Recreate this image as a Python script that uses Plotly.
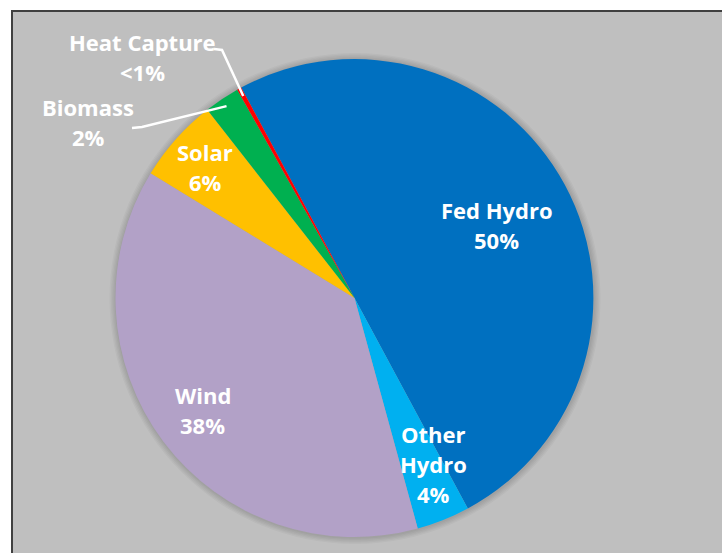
import math
import plotly.graph_objects as go

# Generation mix shares (percent)
sources = ["Fed Hydro", "Other Hydro", "Wind", "Solar", "Biomass", "Heat Capture"]
shares = [50.0, 3.6, 38.0, 5.7, 2.4, 0.3]
colors = ["#0070C0", "#00B0F0", "#B2A1C7", "#FFC000", "#00B050", "#FF0000"]
label_lines = [["Fed Hydro"], ["Other", "Hydro"], ["Wind"], ["Solar"], ["Biomass"], ["Heat Capture"]]

W, H = 722, 553
CX, CY, R = 354.5, 298.0, 239.0       # pie centre and radius in pixels
ROTATION = -28.3                      # first slice starts left of 12 o'clock
BG = "#BFBFBF"
FONT = dict(family="Open Sans", size=22, color="white")
LINE_GAP = 30


def px(x, y):
    return x / W, 1 - y / H


def pct_text(v):
    return "<1%" if v < 1 else f"{round(v)}%"


# slice mid angles (clockwise from 12 o'clock), derived from the shares
total = sum(shares)
mids = []
acc = ROTATION
for v in shares:
    span = 360 * v / total
    mids.append(acc + span / 2)
    acc += span


def polar(angle_deg, frac):
    a = math.radians(angle_deg)
    return CX + frac * R * math.sin(a), CY - frac * R * math.cos(a)


fig = go.Figure()
x0, y1 = px(CX - R, CY - R)
x1, y0 = px(CX + R, CY + R)
fig.add_trace(go.Pie(
    labels=sources, values=shares, sort=False, direction="clockwise",
    rotation=ROTATION, marker=dict(colors=colors, line=dict(width=0)),
    textinfo="none", hoverinfo="label+percent", showlegend=False,
    domain=dict(x=[x0, x1], y=[y0, y1]),
))

shapes = []
# chart area frame
fx0, fy0 = px(12, 11)
fx1, fy1 = px(740, 570)
shapes.append(dict(type="rect", xref="paper", yref="paper", x0=fx0, y0=fy0, x1=fx1, y1=fy1,
                   fillcolor=BG, line=dict(color="#404040", width=2), layer="below"))
# soft shadow around the pie
for k in range(1, 6):
    rr = R + 1.3 * k
    sx0, sy1 = px(CX + 0.5 - rr, CY + 0.5 - rr)
    sx1, sy0 = px(CX + 0.5 + rr, CY + 0.5 + rr)
    shapes.append(dict(type="circle", xref="paper", yref="paper", x0=sx0, y0=sy0, x1=sx1, y1=sy1,
                       fillcolor="rgba(0,0,0,0.03)", line=dict(width=0), layer="below"))

annotations = []


def add_block(cx, cy, lines):
    n = len(lines)
    for i, t in enumerate(lines):
        ax, ay = px(cx, cy + (i - (n - 1) / 2) * LINE_GAP)
        annotations.append(dict(x=ax, y=ay, xref="paper", yref="paper", text=f"<b>{t}</b>",
                                showarrow=False, font=FONT, xanchor="center", yanchor="middle"))


# inside labels: (radius fraction, angular nudge) along each slice's bisector
inside = {0: (0.67, 1.0), 1: (0.77, -3.5), 2: (0.79, 0.5), 3: (0.83, -0.5)}
for i, (frac, nudge) in inside.items():
    lx, ly = polar(mids[i] + nudge, frac)
    add_block(lx, ly, label_lines[i] + [pct_text(shares[i])])

# outside labels with elbow leader lines
outside = {
    5: dict(text=(142, 57), elbow=(222, 50), end=(214, 49)),
    4: dict(text=(88, 122), elbow=(142, 127), end=(132, 128)),
}
for i, o in outside.items():
    add_block(*o["text"], label_lines[i] + [pct_text(shares[i])])
    sx, sy = polar(mids[i], 0.965)
    pts = [px(sx, sy), px(*o["elbow"]), px(*o["end"])]
    path = "M {} {} L {} {} L {} {}".format(*[c for p in pts for c in p])
    shapes.append(dict(type="path", xref="paper", yref="paper", path=path,
                       line=dict(color="white", width=2.5), layer="above"))

fig.update_layout(
    width=W, height=H, margin=dict(l=0, r=0, t=0, b=0),
    paper_bgcolor="white", plot_bgcolor="white",
    shapes=shapes, annotations=annotations,
)
fig.write_html("out.html")
